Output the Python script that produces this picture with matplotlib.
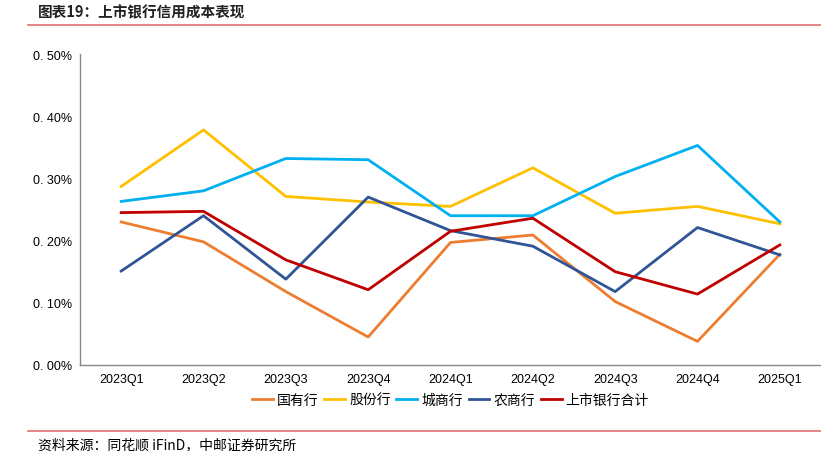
import matplotlib.pyplot as plt
from matplotlib.ticker import FuncFormatter

plt.rcParams['font.family'] = ['Liberation Sans', 'Noto Sans CJK SC', 'DejaVu Sans']

quarters = ['2023Q1', '2023Q2', '2023Q3', '2023Q4', '2024Q1',
            '2024Q2', '2024Q3', '2024Q4', '2025Q1']
state_owned = [0.230, 0.198, 0.118, 0.045, 0.197, 0.209, 0.102, 0.038, 0.178]
joint_stock = [0.287, 0.378, 0.271, 0.262, 0.255, 0.317, 0.244, 0.255, 0.227]
city_comm = [0.263, 0.280, 0.332, 0.330, 0.240, 0.240, 0.303, 0.353, 0.230]
rural_comm = [0.151, 0.240, 0.138, 0.270, 0.216, 0.191, 0.118, 0.221, 0.177]
all_listed = [0.245, 0.247, 0.169, 0.121, 0.215, 0.236, 0.150, 0.114, 0.193]

series = [
    ('国有行', state_owned, '#ED7D31'),
    ('股份行', joint_stock, '#FFC000'),
    ('城商行', city_comm, '#00B0F0'),
    ('农商行', rural_comm, '#2F5597'),
    ('上市银行合计', all_listed, '#C00000'),
]

fig = plt.figure(figsize=(8.21, 4.52), dpi=100)
ax = fig.add_axes([80 / 821, 86 / 452, 741 / 821, 311 / 452])

x = range(len(quarters))
for name, vals, col in series:
    ax.plot(x, vals, color=col, lw=2, label=name)

ax.set_xlim(-0.5, len(quarters) - 0.5)
ax.set_ylim(0, 0.5)
ax.set_yticks([0, 0.1, 0.2, 0.3, 0.4, 0.5])
ax.yaxis.set_major_formatter(FuncFormatter(lambda v, p: '0. %02d%%' % round(v * 100)))
ax.set_xticks(list(x))
ax.set_xticklabels(quarters)
ax.tick_params(length=0, labelsize=9, pad=6)
for s in ['top', 'right']:
    ax.spines[s].set_visible(False)
for s in ['left', 'bottom']:
    ax.spines[s].set_color('#888888')
    ax.spines[s].set_linewidth(1)

leg = ax.legend(loc='upper center', bbox_to_anchor=(0.5, -0.05), ncol=5,
                frameon=False, handlelength=1.5, handletextpad=0.3,
                columnspacing=0.4, prop={'family': ['Noto Sans CJK SC'], 'size': 10})

fig.text(38 / 821, 1 - 12 / 452, '图表19：上市银行信用成本表现', fontsize=10.5,
         family=['Noto Sans CJK SC'], fontweight='bold', color='#222222', va='center')
fig.add_artist(plt.Line2D([28 / 821, 1], [1 - 26 / 452] * 2, color='#E07070', lw=1.2))
fig.add_artist(plt.Line2D([28 / 821, 1], [1 - 432 / 452] * 2, color='#E07070', lw=1.2))
fig.text(38 / 821, 1 - 445 / 452, '资料来源：同花顺 iFinD，中邮证券研究所', fontsize=10,
         family=['Noto Sans CJK SC'], va='center')

fig.savefig('out.png', dpi=100)
